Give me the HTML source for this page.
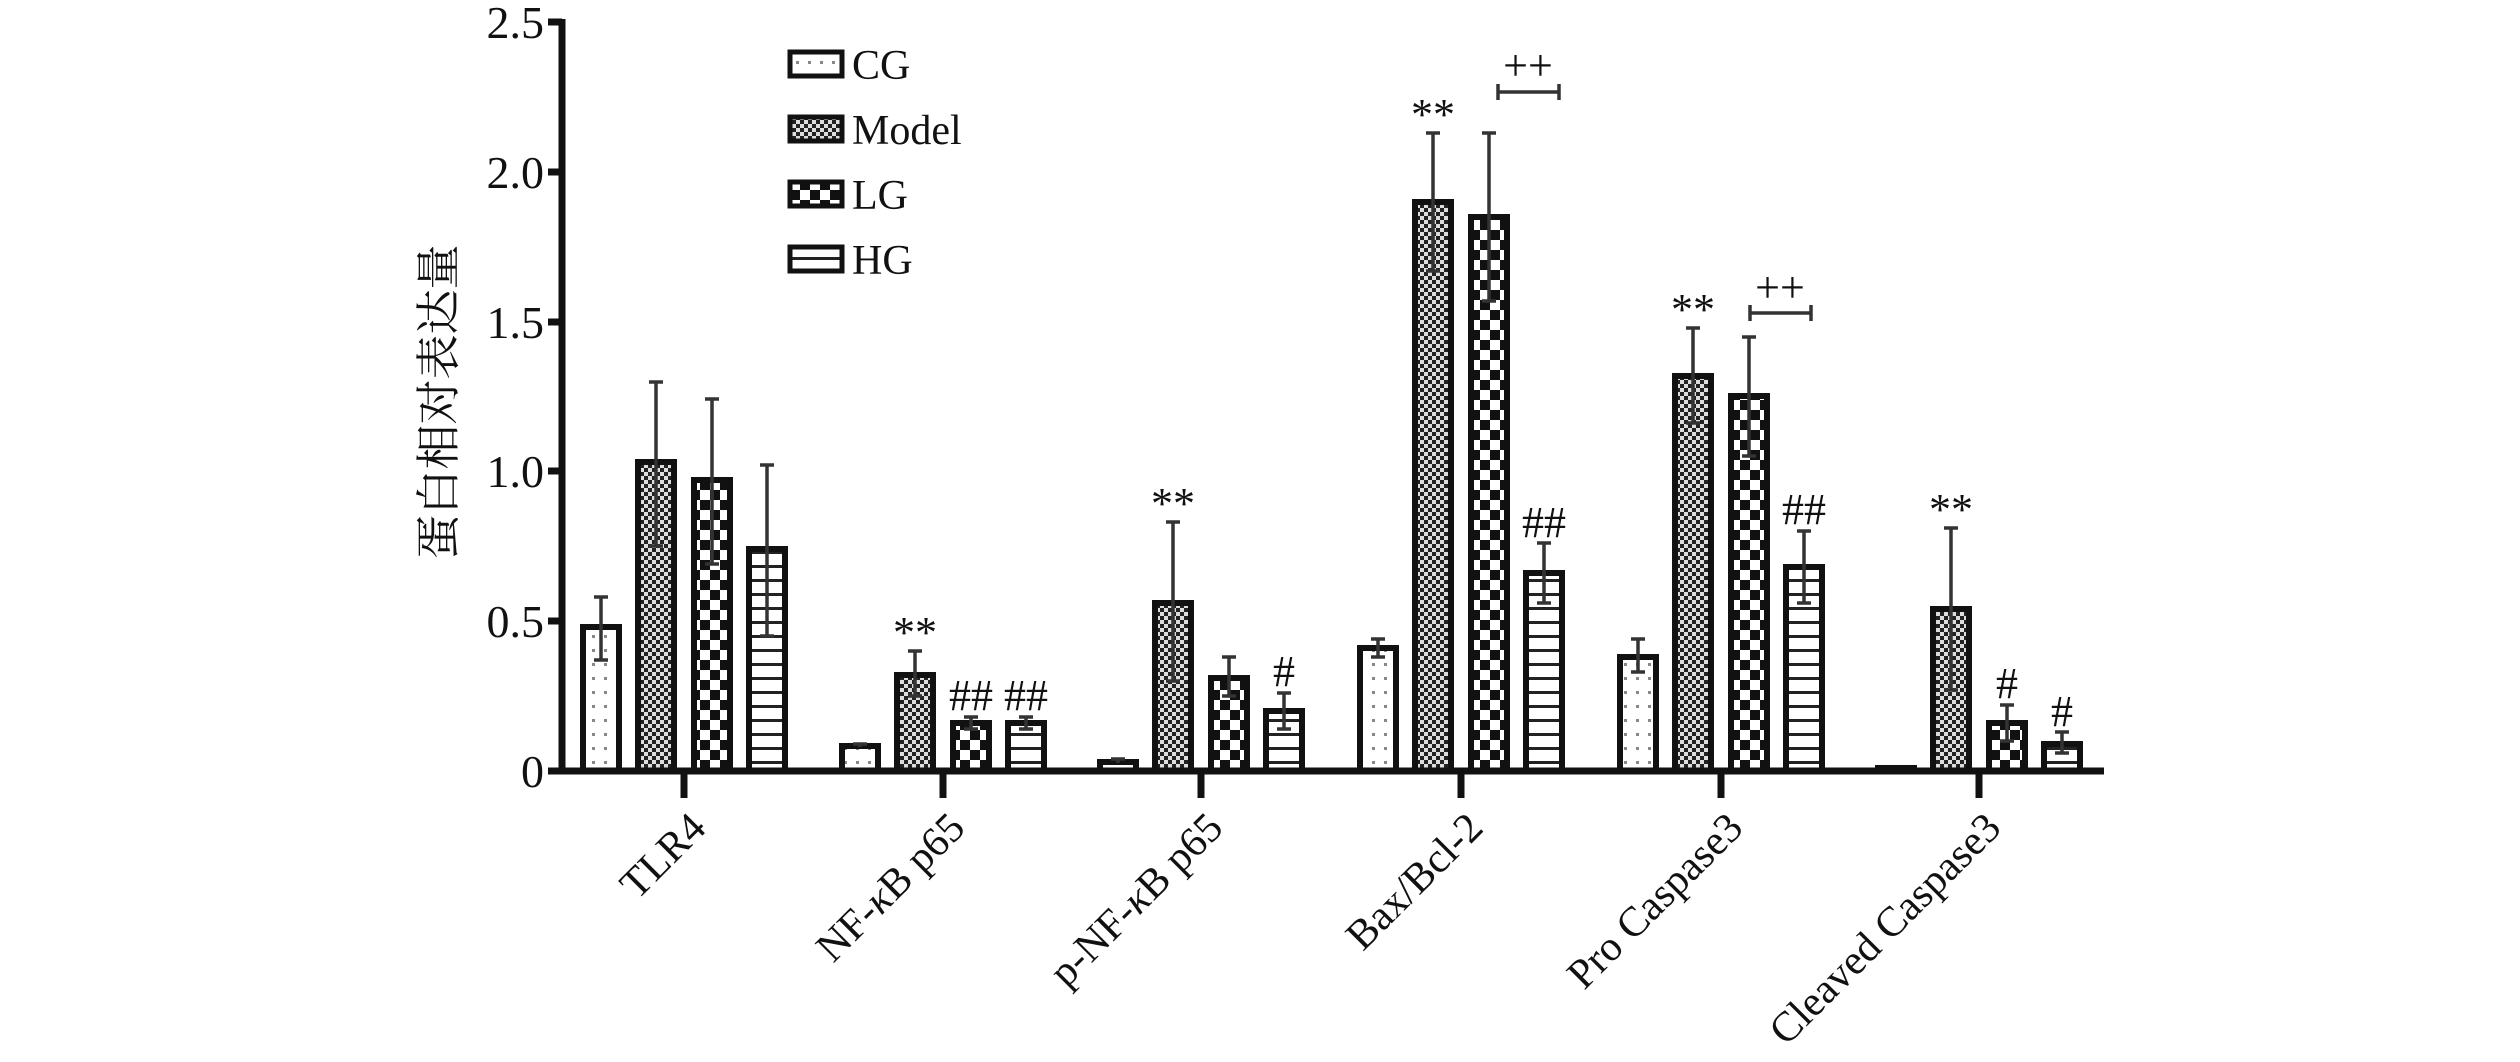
<!DOCTYPE html>
<html><head><meta charset="utf-8"><style>html,body{margin:0;padding:0;background:#fff}svg{display:block}</style></head>
<body>
<svg width="2520" height="1062" viewBox="0 0 2520 1062" xmlns="http://www.w3.org/2000/svg" font-family="'Liberation Serif','Noto Serif CJK SC',serif">
<defs>
<pattern id="pCG" width="12" height="14" patternUnits="userSpaceOnUse"><rect width="12" height="14" fill="#fff"/><rect x="4" y="5" width="3" height="3" fill="#888"/></pattern>
<pattern id="pM" width="8" height="8" patternUnits="userSpaceOnUse"><rect width="8" height="8" fill="#ddd"/><rect width="4" height="4" fill="#222"/><rect x="4" y="4" width="4" height="4" fill="#222"/></pattern>
<pattern id="pLG" width="20" height="20" patternUnits="userSpaceOnUse"><rect width="20" height="20" fill="#fff"/><rect width="10" height="10" fill="#111"/><rect x="10" y="10" width="10" height="10" fill="#111"/></pattern>
<pattern id="pHG" width="12" height="14" patternUnits="userSpaceOnUse"><rect width="12" height="14" fill="#fff"/><rect y="5" width="12" height="3" fill="#222"/></pattern>
</defs>
<g stroke="#111" stroke-width="6">
<rect x="583" y="627" width="36" height="144" fill="url(#pCG)"/>
<rect x="638" y="462" width="36" height="309" fill="url(#pM)"/>
<rect x="694" y="480" width="36" height="291" fill="url(#pLG)"/>
<rect x="749" y="549" width="36" height="222" fill="url(#pHG)"/>
<rect x="842" y="746" width="36" height="25" fill="url(#pCG)"/>
<rect x="897" y="675" width="36" height="96" fill="url(#pM)"/>
<rect x="953" y="723" width="36" height="48" fill="url(#pLG)"/>
<rect x="1008" y="723" width="36" height="48" fill="url(#pHG)"/>
<rect x="1100" y="762" width="36" height="9" fill="url(#pCG)"/>
<rect x="1155" y="603" width="36" height="168" fill="url(#pM)"/>
<rect x="1211" y="678" width="36" height="93" fill="url(#pLG)"/>
<rect x="1266" y="711" width="36" height="60" fill="url(#pHG)"/>
<rect x="1360" y="648" width="36" height="123" fill="url(#pCG)"/>
<rect x="1415" y="202" width="36" height="569" fill="url(#pM)"/>
<rect x="1471" y="217" width="36" height="554" fill="url(#pLG)"/>
<rect x="1526" y="573" width="36" height="198" fill="url(#pHG)"/>
<rect x="1620" y="657" width="36" height="114" fill="url(#pCG)"/>
<rect x="1675" y="376" width="36" height="395" fill="url(#pM)"/>
<rect x="1731" y="396" width="36" height="375" fill="url(#pLG)"/>
<rect x="1786" y="567" width="36" height="204" fill="url(#pHG)"/>
<rect x="1878" y="768" width="36" height="3" fill="url(#pCG)"/>
<rect x="1933" y="609" width="36" height="162" fill="url(#pM)"/>
<rect x="1989" y="723" width="36" height="48" fill="url(#pLG)"/>
<rect x="2044" y="744" width="36" height="27" fill="url(#pHG)"/>
</g>
<g stroke="#333" stroke-width="3.5" fill="none">
<path d="M601 660V597M594 597h14M594 660h14"/>
<path d="M656 546V382M649 382h14M649 546h14"/>
<path d="M712 564V399M705 399h14M705 564h14"/>
<path d="M767 636V465M760 465h14M760 636h14"/>
<path d="M860 744v3M853 744h14"/>
<path d="M915 696V651M908 651h14M908 696h14"/>
<path d="M971 729V717M964 717h14M964 729h14"/>
<path d="M1026 729V717M1019 717h14M1019 729h14"/>
<path d="M1118 759v4M1111 759h14"/>
<path d="M1173 681V522M1166 522h14M1166 681h14"/>
<path d="M1229 696V657M1222 657h14M1222 696h14"/>
<path d="M1284 729V693M1277 693h14M1277 729h14"/>
<path d="M1378 657V639M1371 639h14M1371 657h14"/>
<path d="M1433 271V133M1426 133h14M1426 271h14"/>
<path d="M1489 301V133M1482 133h14M1482 301h14"/>
<path d="M1544 603V543M1537 543h14M1537 603h14"/>
<path d="M1638 672V639M1631 639h14M1631 672h14"/>
<path d="M1693 423V328M1686 328h14M1686 423h14"/>
<path d="M1749 456V337M1742 337h14M1742 456h14"/>
<path d="M1804 603V531M1797 531h14M1797 603h14"/>
<path d="M1951 690V528M1944 528h14M1944 690h14"/>
<path d="M2007 741V705M2000 705h14M2000 741h14"/>
<path d="M2062 753V732M2055 732h14M2055 753h14"/>
<path d="M1498 92h61M1498 84v16M1559 84v16"/>
<path d="M1750 313h61M1750 305v16M1811 305v16"/>
</g>
<g stroke="#111" stroke-width="7" fill="none">
<path d="M562 19V774M560 771H2104"/>
<path d="M548 22h14M548 172h14M548 322h14M548 471h14M548 621h14M548 771h14"/>
<path d="M684 771v27M943 771v27M1201 771v27M1461 771v27M1721 771v27M1979 771v27"/>
</g>
<g font-size="46" fill="#111" text-anchor="end">
<text x="544" y="38">2.5</text>
<text x="544" y="188">2.0</text>
<text x="544" y="338">1.5</text>
<text x="544" y="487">1.0</text>
<text x="544" y="637">0.5</text>
<text x="544" y="787">0</text>
</g>
<text transform="translate(454,402) rotate(-90)" font-size="45" text-anchor="middle" fill="#111">蛋白相对表达量</text>
<g font-size="42" fill="#111" text-anchor="end">
<text transform="translate(708,830) rotate(-45)">TLR4</text>
<text transform="translate(967,830) rotate(-45)">NF-<tspan font-style="italic">κ</tspan>B p65</text>
<text transform="translate(1225,830) rotate(-45)">p-NF-<tspan font-style="italic">κ</tspan>B p65</text>
<text transform="translate(1485,830) rotate(-45)">Bax/Bcl-2</text>
<text transform="translate(1745,830) rotate(-45)">Pro Caspase3</text>
<text transform="translate(2003,830) rotate(-45)">Cleaved Caspase3</text>
</g>
<g stroke="#111" stroke-width="5">
<rect x="790" y="52" width="52" height="24" fill="url(#pCG)"/>
<rect x="790" y="117" width="52" height="24" fill="url(#pM)"/>
<rect x="790" y="182" width="52" height="24" fill="url(#pLG)"/>
<rect x="790" y="247" width="52" height="24" fill="url(#pHG)"/>
</g>
<g font-size="42" fill="#111">
<text x="852" y="79">CG</text>
<text x="852" y="144">Model</text>
<text x="852" y="209">LG</text>
<text x="852" y="274">HG</text>
</g>
<g font-size="44" fill="#111" text-anchor="middle">
<text x="915" y="647">**</text>
<text x="971" y="710">##</text>
<text x="1026" y="710">##</text>
<text x="1173" y="518">**</text>
<text x="1284" y="686">#</text>
<text x="1433" y="129">**</text>
<text x="1528" y="80">++</text>
<text x="1544" y="537">##</text>
<text x="1693" y="324">**</text>
<text x="1780" y="302">++</text>
<text x="1804" y="524">##</text>
<text x="1951" y="524">**</text>
<text x="2007" y="698">#</text>
<text x="2062" y="726">#</text>
</g>
</svg>
</body></html>
